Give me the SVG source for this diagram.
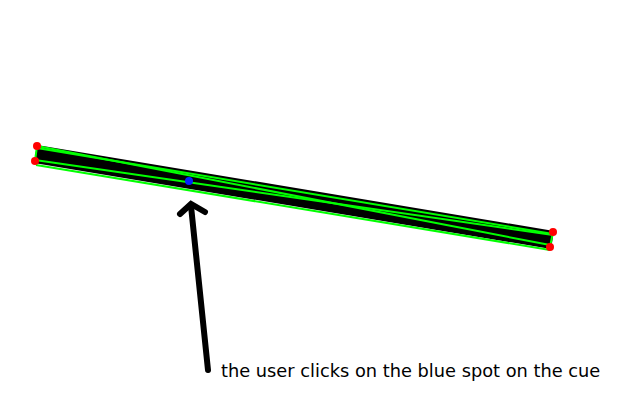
<svg xmlns="http://www.w3.org/2000/svg" width="640" height="400" viewBox="0 0 640 400">
<style>
.g{stroke:#00ff00;stroke-width:2;fill:none}
.r{fill:#ff0000}
.t{font-family:"DejaVu Sans",sans-serif;font-size:17.8px;fill:#000}
</style>
<rect width="640" height="400" fill="#fff"/>
<g id="cue">
<polygon points="37,145 554,231 551,249 34,163" fill="#000"/>
<line class="g" x1="37" y1="148" x2="553" y2="234"/>
<line class="g" x1="36" y1="165" x2="550" y2="250"/>
<line class="g" x1="37" y1="146" x2="35" y2="161"/>
<line class="g" x1="553" y1="232" x2="550" y2="247"/>
<line class="g" x1="37" y1="146" x2="550" y2="245"/>
<line class="g" x1="35" y1="160" x2="553" y2="235"/>
<circle class="r" cx="37" cy="146" r="4"/>
<circle class="r" cx="35" cy="161" r="4"/>
<circle class="r" cx="553" cy="232" r="4"/>
<circle class="r" cx="550" cy="247" r="4"/>
<circle cx="189" cy="181" r="4" fill="#0022ff"/>
</g>
<g id="connectors">
<line x1="208" y1="370" x2="191" y2="206" stroke="#000" stroke-width="6" stroke-linecap="round"/>
<polyline points="180,214 191,204 205,212" fill="none" stroke="#000" stroke-width="6" stroke-linecap="round" stroke-linejoin="miter"/>
</g>
<g id="label">
<text class="t" x="221" y="377">the user clicks on the blue spot on the cue</text>
</g>
</svg>
